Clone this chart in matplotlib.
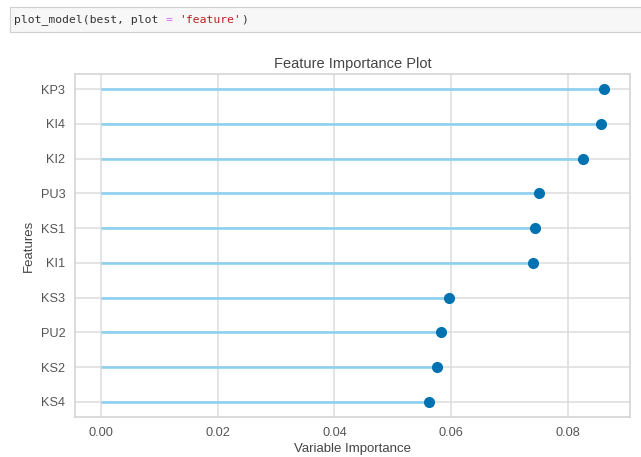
import matplotlib.pyplot as plt
from matplotlib.patches import FancyBboxPatch

features = ["KS4", "KS2", "PU2", "KS3", "KI1", "KS1", "PU3", "KI2", "KI4", "KP3"]
importance = [0.0562, 0.0576, 0.0583, 0.0596, 0.0740, 0.0744, 0.0751, 0.0827, 0.0858, 0.0863]
xticks = [0.00, 0.02, 0.04, 0.06, 0.08]

plt.rcParams['font.family'] = ['Liberation Sans', 'DejaVu Sans']

fig = plt.figure(figsize=(6.41, 4.57), dpi=100)
fig.patch.set_facecolor('white')

# notebook cell with the call that produced the plot
cell = FancyBboxPatch((10 / 641, 1 - 32 / 457), 640 / 641, 25 / 457,
                      boxstyle="square,pad=0", transform=fig.transFigure,
                      facecolor='#f7f7f7', edgecolor='#cfcfcf', linewidth=0.8)
fig.patches.append(cell)
code_y = 1 - 20 / 457
parts = [("plot_model(best, plot ", '#333333'), ("=", '#cc66ee'),
         (" ", '#333333'), ("'feature'", '#ba2121'), (")", '#333333')]
x0 = 14 / 641
for txt, col in parts:
    fig.text(x0, code_y, txt, color=col, family='DejaVu Sans Mono',
             fontsize=8.2, va='center', ha='left')
    x0 += len(txt) * 6.88 / 641

ax = fig.add_axes([75 / 641, 1 - 417 / 457, 555 / 641, 343 / 457])
ax.set_facecolor('white')
pos = list(range(len(features)))
ax.hlines(y=pos, xmin=0, xmax=importance, color='#8ed0ee', linewidth=1.9, zorder=2)
ax.plot(importance, pos, 'o', color='#0072B2', markersize=7, zorder=3)

ax.set_yticks(pos)
ax.set_yticklabels(features)
ax.set_xticks(xticks)
ax.set_xticklabels([f"{v:.2f}" for v in xticks])
ax.set_xlim(-0.0045, 0.0907)
ax.set_ylim(-0.44, 9.44)

ax.grid(True, color='#dddddd', linewidth=1.1, zorder=0)
ax.set_axisbelow(True)
for s in ax.spines.values():
    s.set_color('#d4d4d4')
    s.set_linewidth(1.2)
ax.tick_params(length=0, pad=7, labelsize=9.2, colors='#555555')

ax.set_title("Feature Importance Plot", fontsize=10.5, color='#444444', pad=4)
ax.set_xlabel("Variable Importance", fontsize=9.5, color='#444444', labelpad=3)
ax.set_ylabel("Features", fontsize=9.5, color='#444444', labelpad=4)

fig.savefig("out.png", dpi=100)
